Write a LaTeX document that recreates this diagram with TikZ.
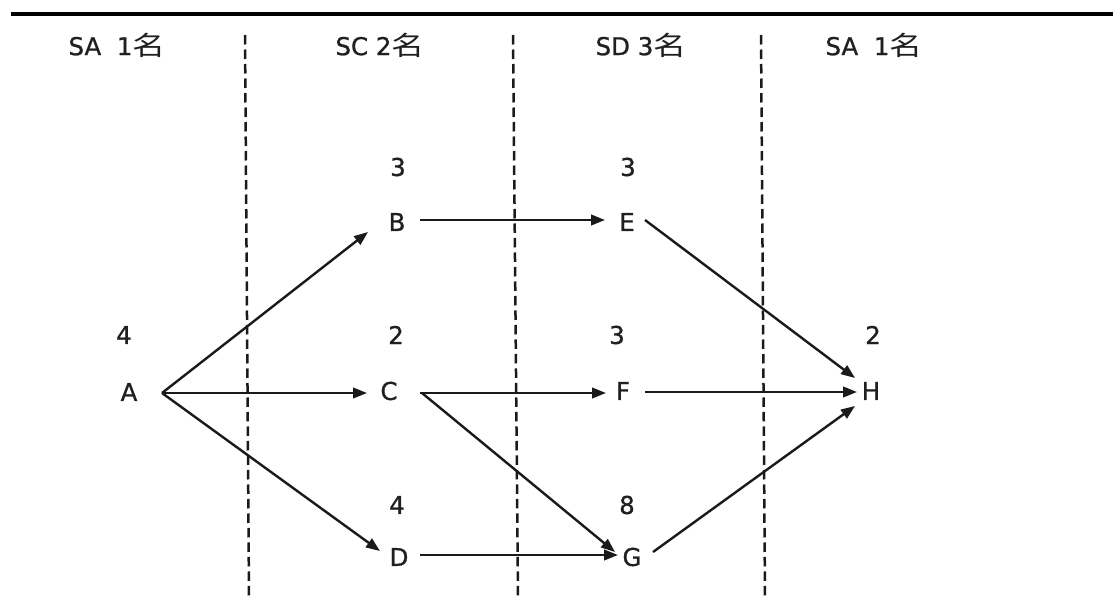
\documentclass[tikz,border=0pt]{standalone}
\usepackage{fontspec}
\setmainfont{DejaVu Sans}[FakeBold=1]
\newfontfamily\cjk{Noto Sans CJK SC}
\usetikzlibrary{arrows.meta,calc}
\definecolor{txt}{HTML}{202020}
\definecolor{ln}{HTML}{1A1A1A}
\newcommand{\ming}{\scalebox{1.35}[1.08]{\cjk 名}}
\begin{document}
\begin{tikzpicture}[x=1pt,y=-1pt,
  lbl/.style={font=\fontsize{24.5}{28}\selectfont, text=txt, inner sep=0pt},
  hdr/.style={font=\fontsize{24.5}{28}\selectfont, text=txt, inner sep=0pt},
  arr/.style={draw=ln, line width=2.4pt, -{Triangle[length=14pt,width=10.5pt]}},
  sepline/.style={draw=ln, line width=2.5pt, dash pattern=on 9.5pt off 5pt},
  rule/.style={draw=black, line width=3.2pt}]
\useasboundingbox (0,0) rectangle (1113,597);
% top rule
\coordinate (r1) at (11,14);
\coordinate (r2) at (1113,14);
\draw[rule] (r1) -- (r2);
% separators
\coordinate (s1t) at (245,35); \coordinate (s1b) at (249,597);
\coordinate (s2t) at (513,35); \coordinate (s2b) at (518,597);
\coordinate (s3t) at (761,35); \coordinate (s3b) at (765,597);
\draw[sepline] (s1t) -- (s1b);
\draw[sepline] (s2t) -- (s2b);
\draw[sepline] (s3t) -- (s3b);
% headers
\node[hdr] (h1) at (117,45) {SA\ \ 1\ming};
\node[hdr] (h2) at (380,45) {SC 2\ming};
\node[hdr] (h3) at (641,45) {SD 3\ming};
\node[hdr] (h4) at (874,45) {SA\ \ 1\ming};
% activity nodes
\node[lbl] (A) at (129,392) {A};
\node[lbl] (B) at (397,222) {B};
\node[lbl] (C) at (389,391) {C};
\node[lbl] (D) at (399,557) {D};
\node[lbl] (E) at (627,222) {E};
\node[lbl] (F) at (623,391) {F};
\node[lbl] (G) at (632,557) {G};
\node[lbl] (H) at (871,391) {H};
% durations
\node[lbl] (nA) at (124,335) {4};
\node[lbl] (nB) at (398,167) {3};
\node[lbl] (nC) at (396,335) {2};
\node[lbl] (nD) at (397,505) {4};
\node[lbl] (nE) at (628,167) {3};
\node[lbl] (nF) at (617,335) {3};
\node[lbl] (nG) at (627,505) {8};
\node[lbl] (nH) at (873,335) {2};
% connectors
\draw[arr] ($(A)+(33,1)$) -- ($(B)+(-29,10)$);
\draw[arr] ($(A)+(33,1)$) -- ($(C)+(-22,2)$);
\draw[arr] ($(A)+(33,1)$) -- ($(D)+(-19,-6)$);
\draw[arr] ($(B)+(23,-2)$) -- ($(E)+(-22,-2)$);
\draw[arr] ($(C)+(31,2)$) -- ($(F)+(-17,2)$);
\draw[arr] ($(C)+(33,2)$) -- ($(G)+(-17,-5)$);
\draw[arr] ($(D)+(21,-2)$) -- ($(G)+(-14,-2)$);
\draw[arr] ($(E)+(18,-2)$) -- ($(H)+(-16,-13)$);
\draw[arr] ($(F)+(22,1)$) -- ($(H)+(-14,1)$);
\draw[arr] ($(G)+(21,-5)$) -- ($(H)+(-16,15)$);
\end{tikzpicture}
\end{document}
